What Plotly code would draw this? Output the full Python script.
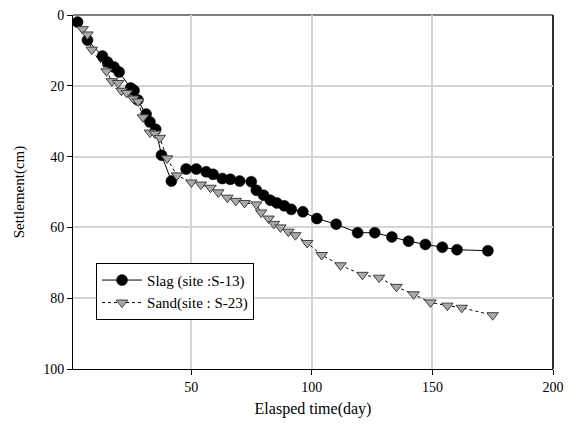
import plotly.graph_objects as go

slag_days = [2.9, 7.0, 13.2, 15.3, 18.0, 20.1, 24.9, 26.3, 27.9, 31.3, 32.9, 35.3, 37.7, 41.8,
             47.9, 52.1, 56.2, 59.1, 62.9, 66.2, 70.1, 74.9, 77.0, 80.0, 82.8, 85.5, 88.6,
             91.5, 96.3, 102.1, 110.1, 119.0, 126.1, 133.2, 140.1, 147.1, 154.1, 160.2, 173.0]
slag_settle = [2.0, 7.1, 11.6, 13.3, 14.7, 16.1, 20.6, 21.3, 24.0, 28.0, 30.2, 32.3, 39.6, 46.9,
               43.5, 43.5, 44.3, 45.0, 46.2, 46.4, 46.9, 47.1, 49.5, 50.9, 52.3, 53.1, 53.9,
               54.9, 55.6, 57.5, 59.1, 61.5, 61.5, 62.7, 63.9, 64.8, 65.6, 66.3, 66.6]

sand_days = [5.0, 7.0, 8.8, 14.9, 17.1, 19.7, 21.1, 23.3, 26.0, 28.0, 30.0, 32.9, 35.0, 37.0,
             40.0, 44.1, 50.1, 54.0, 58.0, 61.2, 65.0, 68.5, 72.1, 77.0, 79.0, 82.1, 84.3,
             87.0, 90.3, 93.2, 98.1, 104.1, 111.9, 121.0, 127.9, 135.1, 142.2, 149.2, 156.2,
             162.2, 175.0]
sand_settle = [4.0, 5.5, 9.8, 15.9, 18.7, 19.2, 21.4, 22.0, 23.6, 24.4, 28.9, 33.2, 33.5, 34.7,
               40.5, 45.3, 47.3, 47.9, 48.8, 50.1, 51.6, 52.5, 53.1, 53.5, 55.8, 57.5, 59.0,
               60.0, 61.2, 62.2, 64.4, 67.8, 70.7, 73.4, 74.2, 76.8, 78.9, 81.2, 82.1,
               82.7, 84.8]

x_ticks = [50, 100, 150, 200]
y_ticks = [0, 20, 40, 60, 80, 100]

FONT = "Liberation Serif"

fig = go.Figure()
fig.add_trace(go.Scatter(
    x=slag_days, y=slag_settle, mode="lines+markers", name="Slag (site :S-13)",
    line=dict(color="black", width=1),
    marker=dict(symbol="circle", size=11, color="black", line=dict(color="black", width=0.5)),
))
fig.add_trace(go.Scatter(
    x=sand_days, y=sand_settle, mode="lines+markers", name="Sand(site : S-23)",
    line=dict(color="black", width=1, dash="dot"),
    marker=dict(symbol="triangle-down", size=10, color="#a9a9a9",
                line=dict(color="#404040", width=1)),
))

fig.update_layout(
    width=568, height=418,
    margin=dict(l=65, r=23, t=7, b=57, autoexpand=False),
    paper_bgcolor="white", plot_bgcolor="white",
    font=dict(family=FONT, size=14, color="black"),
    showlegend=True,
    legend=dict(x=0.048, y=0.30, xanchor="left", yanchor="top",
                bgcolor="white", bordercolor="black", borderwidth=1,
                font=dict(family=FONT, size=15), tracegroupgap=0,
                itemwidth=40),
)
fig.update_xaxes(
    range=[1, 200], tickvals=x_ticks, ticks="outside", ticklen=5, tickcolor="black",
    showline=True, linecolor="black", linewidth=1, ticklabeloverflow="allow",
    automargin=False,
    showgrid=True, gridcolor="#d4d4d4", gridwidth=1.5, zeroline=False,
    title=dict(text="Elasped time(day)", font=dict(family=FONT, size=16), standoff=9),
)
fig.update_yaxes(
    range=[100, 0], tickvals=y_ticks, ticks="outside", ticklen=5, tickcolor="black",
    showline=True, linecolor="black", linewidth=1, ticklabeloverflow="allow",
    automargin=False,
    showgrid=True, gridcolor="#d4d4d4", gridwidth=1.5, zeroline=False,
    title=dict(text="Settlement(cm)", font=dict(family=FONT, size=15), standoff=14),
)
fig.add_shape(type="line", xref="paper", yref="paper", x0=0, x1=1, y0=1, y1=1,
              line=dict(color="#808080", width=2), layer="below")
fig.add_shape(type="line", xref="paper", yref="paper", x0=1, x1=1, y0=0, y1=1,
              line=dict(color="#303030", width=2), layer="below")

fig.write_html("out.html")
